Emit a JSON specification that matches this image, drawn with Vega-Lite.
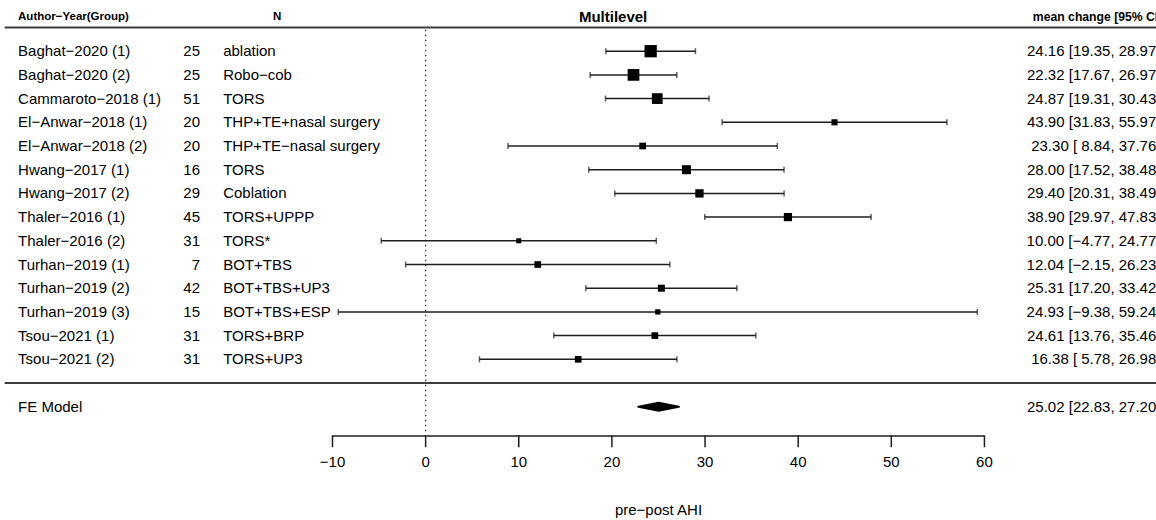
{
  "$schema": "https://vega.github.io/schema/vega-lite/v6.json",
  "width": 1156,
  "height": 520,
  "autosize": "none",
  "padding": 0,
  "background": "white",
  "config": {"view": {"stroke": null}, "font": "Liberation Sans", "text": {"font": "Liberation Sans", "color": "#000000"}},
  "datasets": {
    "studies": [
      {"study": "Baghat−2020 (1)", "n": 25, "group": "ablation", "est": 24.16, "lo": 19.35, "hi": 28.97, "row": 14, "weight": 14.5, "ci": "24.16 [19.35, 28.97]"},
      {"study": "Baghat−2020 (2)", "n": 25, "group": "Robo−cob", "est": 22.32, "lo": 17.67, "hi": 26.97, "row": 13, "weight": 13.2, "ci": "22.32 [17.67, 26.97]"},
      {"study": "Cammaroto−2018 (1)", "n": 51, "group": "TORS", "est": 24.87, "lo": 19.31, "hi": 30.43, "row": 12, "weight": 11.1, "ci": "24.87 [19.31, 30.43]"},
      {"study": "El−Anwar−2018 (1)", "n": 20, "group": "THP+TE+nasal surgery", "est": 43.90, "lo": 31.83, "hi": 55.97, "row": 11, "weight": 3.6, "ci": "43.90 [31.83, 55.97]"},
      {"study": "El−Anwar−2018 (2)", "n": 20, "group": "THP+TE−nasal surgery", "est": 23.30, "lo": 8.84, "hi": 37.76, "row": 10, "weight": 4.3, "ci": "23.30 [ 8.84, 37.76]"},
      {"study": "Hwang−2017 (1)", "n": 16, "group": "TORS", "est": 28.00, "lo": 17.52, "hi": 38.48, "row": 9, "weight": 7.8, "ci": "28.00 [17.52, 38.48]"},
      {"study": "Hwang−2017 (2)", "n": 29, "group": "Coblation", "est": 29.40, "lo": 20.31, "hi": 38.49, "row": 8, "weight": 6.7, "ci": "29.40 [20.31, 38.49]"},
      {"study": "Thaler−2016 (1)", "n": 45, "group": "TORS+UPPP", "est": 38.90, "lo": 29.97, "hi": 47.83, "row": 7, "weight": 6.5, "ci": "38.90 [29.97, 47.83]"},
      {"study": "Thaler−2016 (2)", "n": 31, "group": "TORS*", "est": 10.00, "lo": -4.77, "hi": 24.77, "row": 6, "weight": 2.4, "ci": "10.00 [−4.77, 24.77]"},
      {"study": "Turhan−2019 (1)", "n": 7, "group": "BOT+TBS", "est": 12.04, "lo": -2.15, "hi": 26.23, "row": 5, "weight": 4.3, "ci": "12.04 [−2.15, 26.23]"},
      {"study": "Turhan−2019 (2)", "n": 42, "group": "BOT+TBS+UP3", "est": 25.31, "lo": 17.20, "hi": 33.42, "row": 4, "weight": 4.7, "ci": "25.31 [17.20, 33.42]"},
      {"study": "Turhan−2019 (3)", "n": 15, "group": "BOT+TBS+ESP", "est": 24.93, "lo": -9.38, "hi": 59.24, "row": 3, "weight": 2.7, "ci": "24.93 [−9.38, 59.24]"},
      {"study": "Tsou−2021 (1)", "n": 31, "group": "TORS+BRP", "est": 24.61, "lo": 13.76, "hi": 35.46, "row": 2, "weight": 4.3, "ci": "24.61 [13.76, 35.46]"},
      {"study": "Tsou−2021 (2)", "n": 31, "group": "TORS+UP3", "est": 16.38, "lo": 5.78, "hi": 26.98, "row": 1, "weight": 4.3, "ci": "16.38 [ 5.78, 26.98]"}
    ],
    "fe": [
      {"part": "lower", "value": 22.83},
      {"part": "estimate", "value": 25.02},
      {"part": "upper", "value": 27.20}
    ],
    "ticks": [{"value": -10}, {"value": 0}, {"value": 10}, {"value": 20}, {"value": 30}, {"value": 40}, {"value": 50}, {"value": 60}]
  },
  "layer": [
    {
      "data": {"values": [{"line": "header", "row": 15}, {"line": "separator", "row": 0}]},
      "mark": {"type": "rule", "stroke": "#3c3c3c", "strokeWidth": 2},
      "encoding": {
        "x": {"datum": -45.2, "type": "quantitative", "scale": {"domain": [-45.70, 78.42], "nice": false, "zero": false}, "axis": null},
        "x2": {"datum": 80},
        "y": {"field": "row", "type": "quantitative", "scale": {"domain": [-5.78, 16.16], "nice": false, "zero": false}, "axis": null}
      }
    },
    {
      "data": {"values": [{"ref": 0}]},
      "mark": {"type": "rule", "stroke": "#333333", "strokeWidth": 1.3, "strokeDash": [1.5, 3.5]},
      "encoding": {
        "x": {"field": "ref", "type": "quantitative", "scale": {"domain": [-45.70, 78.42], "nice": false, "zero": false}, "axis": null},
        "y": {"datum": 14.9, "type": "quantitative", "scale": {"domain": [-5.78, 16.16], "nice": false, "zero": false}, "axis": null},
        "y2": {"datum": -2.05}
      }
    },
    {
      "data": {"name": "studies"},
      "mark": {"type": "rule", "stroke": "#1e1e1e", "strokeWidth": 1.5},
      "encoding": {
        "x": {"field": "lo", "type": "quantitative", "scale": {"domain": [-45.70, 78.42], "nice": false, "zero": false}, "axis": null},
        "x2": {"field": "hi"},
        "y": {"field": "row", "type": "quantitative", "scale": {"domain": [-5.78, 16.16], "nice": false, "zero": false}, "axis": null}
      }
    },
    {
      "data": {"name": "studies"},
      "mark": {"type": "tick", "orient": "vertical", "size": 6, "thickness": 1.5, "color": "#1e1e1e"},
      "encoding": {
        "x": {"field": "lo", "type": "quantitative", "scale": {"domain": [-45.70, 78.42], "nice": false, "zero": false}, "axis": null},
        "y": {"field": "row", "type": "quantitative", "scale": {"domain": [-5.78, 16.16], "nice": false, "zero": false}, "axis": null}
      }
    },
    {
      "data": {"name": "studies"},
      "mark": {"type": "tick", "orient": "vertical", "size": 6, "thickness": 1.5, "color": "#1e1e1e"},
      "encoding": {
        "x": {"field": "hi", "type": "quantitative", "scale": {"domain": [-45.70, 78.42], "nice": false, "zero": false}, "axis": null},
        "y": {"field": "row", "type": "quantitative", "scale": {"domain": [-5.78, 16.16], "nice": false, "zero": false}, "axis": null}
      }
    },
    {
      "data": {"name": "studies"},
      "mark": {"type": "point", "shape": "square", "filled": true, "color": "#000000", "opacity": 1},
      "encoding": {
        "x": {"field": "est", "type": "quantitative", "scale": {"domain": [-45.70, 78.42], "nice": false, "zero": false}, "axis": null},
        "y": {"field": "row", "type": "quantitative", "scale": {"domain": [-5.78, 16.16], "nice": false, "zero": false}, "axis": null},
        "size": {"field": "weight", "type": "quantitative", "scale": {"domain": [0, 10], "range": [0, 104], "zero": true}, "legend": null}
      }
    },
    {
      "data": {"name": "fe"},
      "mark": {"type": "trail", "color": "#000000"},
      "encoding": {
        "x": {"field": "value", "type": "quantitative", "scale": {"domain": [-45.70, 78.42], "nice": false, "zero": false}, "axis": null},
        "y": {"datum": -1, "type": "quantitative", "scale": {"domain": [-5.78, 16.16], "nice": false, "zero": false}, "axis": null},
        "size": {"field": "part", "type": "nominal", "scale": {"type": "ordinal", "domain": ["lower", "estimate", "upper"], "range": [2, 10, 2]}, "legend": null},
        "order": {"field": "value", "type": "quantitative"}
      }
    },
    {
      "data": {"name": "studies"},
      "mark": {"type": "text", "align": "left", "baseline": "middle", "fontSize": 15},
      "encoding": {
        "x": {"datum": -43.76, "type": "quantitative", "scale": {"domain": [-45.70, 78.42], "nice": false, "zero": false}, "axis": null},
        "y": {"field": "row", "type": "quantitative", "scale": {"domain": [-5.78, 16.16], "nice": false, "zero": false}, "axis": null},
        "text": {"field": "study"}
      }
    },
    {
      "data": {"name": "studies"},
      "mark": {"type": "text", "align": "right", "baseline": "middle", "fontSize": 15},
      "encoding": {
        "x": {"datum": -24.22, "type": "quantitative", "scale": {"domain": [-45.70, 78.42], "nice": false, "zero": false}, "axis": null},
        "y": {"field": "row", "type": "quantitative", "scale": {"domain": [-5.78, 16.16], "nice": false, "zero": false}, "axis": null},
        "text": {"field": "n"}
      }
    },
    {
      "data": {"name": "studies"},
      "mark": {"type": "text", "align": "left", "baseline": "middle", "fontSize": 15},
      "encoding": {
        "x": {"datum": -21.74, "type": "quantitative", "scale": {"domain": [-45.70, 78.42], "nice": false, "zero": false}, "axis": null},
        "y": {"field": "row", "type": "quantitative", "scale": {"domain": [-5.78, 16.16], "nice": false, "zero": false}, "axis": null},
        "text": {"field": "group"}
      }
    },
    {
      "data": {"name": "studies"},
      "mark": {"type": "text", "align": "right", "baseline": "middle", "fontSize": 15},
      "encoding": {
        "x": {"datum": 78.9, "type": "quantitative", "scale": {"domain": [-45.70, 78.42], "nice": false, "zero": false}, "axis": null},
        "y": {"field": "row", "type": "quantitative", "scale": {"domain": [-5.78, 16.16], "nice": false, "zero": false}, "axis": null},
        "text": {"field": "ci"}
      }
    },
    {
      "data": {"values": [{"label": "FE Model", "ci": "25.02 [22.83, 27.20]"}]},
      "layer": [
        {
          "mark": {"type": "text", "align": "left", "baseline": "middle", "fontSize": 15},
          "encoding": {
            "x": {"datum": -43.76, "type": "quantitative", "scale": {"domain": [-45.70, 78.42], "nice": false, "zero": false}, "axis": null},
            "y": {"datum": -1, "type": "quantitative", "scale": {"domain": [-5.78, 16.16], "nice": false, "zero": false}, "axis": null},
            "text": {"field": "label"}
          }
        },
        {
          "mark": {"type": "text", "align": "right", "baseline": "middle", "fontSize": 15},
          "encoding": {
            "x": {"datum": 78.9, "type": "quantitative", "scale": {"domain": [-45.70, 78.42], "nice": false, "zero": false}, "axis": null},
            "y": {"datum": -1, "type": "quantitative", "scale": {"domain": [-5.78, 16.16], "nice": false, "zero": false}, "axis": null},
            "text": {"field": "ci"}
          }
        }
      ]
    },
    {
      "data": {"values": [{"h": "Author−Year(Group)"}]},
      "mark": {"type": "text", "align": "left", "baseline": "middle", "fontSize": 11.5, "fontWeight": "bold"},
      "encoding": {
        "x": {"datum": -43.76, "type": "quantitative", "scale": {"domain": [-45.70, 78.42], "nice": false, "zero": false}, "axis": null},
        "y": {"datum": 15.44, "type": "quantitative", "scale": {"domain": [-5.78, 16.16], "nice": false, "zero": false}, "axis": null},
        "text": {"field": "h"}
      }
    },
    {
      "data": {"values": [{"h": "N"}]},
      "mark": {"type": "text", "align": "center", "baseline": "middle", "fontSize": 11.5, "fontWeight": "bold"},
      "encoding": {
        "x": {"datum": -15.95, "type": "quantitative", "scale": {"domain": [-45.70, 78.42], "nice": false, "zero": false}, "axis": null},
        "y": {"datum": 15.44, "type": "quantitative", "scale": {"domain": [-5.78, 16.16], "nice": false, "zero": false}, "axis": null},
        "text": {"field": "h"}
      }
    },
    {
      "data": {"values": [{"h": "mean change [95% CI]"}]},
      "mark": {"type": "text", "align": "left", "baseline": "middle", "fontSize": 12.2, "fontWeight": "bold"},
      "encoding": {
        "x": {"datum": 65.2, "type": "quantitative", "scale": {"domain": [-45.70, 78.42], "nice": false, "zero": false}, "axis": null},
        "y": {"datum": 15.44, "type": "quantitative", "scale": {"domain": [-5.78, 16.16], "nice": false, "zero": false}, "axis": null},
        "text": {"field": "h"}
      }
    },
    {
      "data": {"values": [{"h": "Multilevel"}]},
      "mark": {"type": "text", "align": "center", "baseline": "middle", "fontSize": 15, "fontWeight": "bold"},
      "encoding": {
        "x": {"datum": 20.13, "type": "quantitative", "scale": {"domain": [-45.70, 78.42], "nice": false, "zero": false}, "axis": null},
        "y": {"datum": 15.44, "type": "quantitative", "scale": {"domain": [-5.78, 16.16], "nice": false, "zero": false}, "axis": null},
        "text": {"field": "h"}
      }
    },
    {
      "data": {"values": [{"from": -10, "to": 60}]},
      "mark": {"type": "rule", "stroke": "#1e1e1e", "strokeWidth": 1.5},
      "encoding": {
        "x": {"field": "from", "type": "quantitative", "scale": {"domain": [-45.70, 78.42], "nice": false, "zero": false}, "axis": null},
        "x2": {"field": "to"},
        "y": {"datum": -2.24, "type": "quantitative", "scale": {"domain": [-5.78, 16.16], "nice": false, "zero": false}, "axis": null}
      }
    },
    {
      "data": {"name": "ticks"},
      "mark": {"type": "rule", "stroke": "#1e1e1e", "strokeWidth": 1.5},
      "encoding": {
        "x": {"field": "value", "type": "quantitative", "scale": {"domain": [-45.70, 78.42], "nice": false, "zero": false}, "axis": null},
        "y": {"datum": -2.21, "type": "quantitative", "scale": {"domain": [-5.78, 16.16], "nice": false, "zero": false}, "axis": null},
        "y2": {"datum": -2.71}
      }
    },
    {
      "data": {"name": "ticks"},
      "mark": {"type": "text", "align": "center", "baseline": "middle", "fontSize": 15},
      "encoding": {
        "x": {"field": "value", "type": "quantitative", "scale": {"domain": [-45.70, 78.42], "nice": false, "zero": false}, "axis": null},
        "y": {"datum": -3.32, "type": "quantitative", "scale": {"domain": [-5.78, 16.16], "nice": false, "zero": false}, "axis": null},
        "text": {"field": "value", "type": "quantitative"}
      }
    },
    {
      "data": {"values": [{"t": "pre−post AHI"}]},
      "mark": {"type": "text", "align": "center", "baseline": "middle", "fontSize": 15},
      "encoding": {
        "x": {"datum": 25, "type": "quantitative", "scale": {"domain": [-45.70, 78.42], "nice": false, "zero": false}, "axis": null},
        "y": {"datum": -5.36, "type": "quantitative", "scale": {"domain": [-5.78, 16.16], "nice": false, "zero": false}, "axis": null},
        "text": {"field": "t"}
      }
    }
  ]
}
